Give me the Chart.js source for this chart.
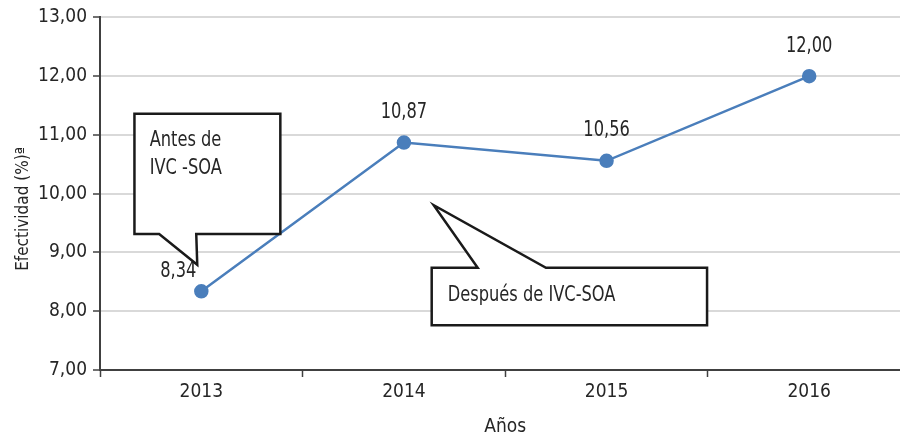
<!DOCTYPE html>
<html>
<head>
<meta charset="utf-8">
<script src="https://cdn.jsdelivr.net/npm/chart.js@4"></script>
<style>
  html, body { margin: 0; padding: 0; background: #fff; overflow: hidden; }
</style>
</head>
<body>
<canvas id="chart" width="919" height="440"></canvas>
<script>
// datos
const years = ['2013', '2014', '2015', '2016'];
const efectividad = [8.34, 10.87, 10.56, 12.00];
const yTicks = [7, 8, 9, 10, 11, 12, 13];

// pick a condensed font if one is installed
function hasFont(name) {
  const c = document.createElement('canvas').getContext('2d');
  const s = 'Después de IVC-SOA 2013 10,87';
  c.font = '20px monospace';
  const a = c.measureText(s).width;
  c.font = '20px "' + name + '", monospace';
  const b = c.measureText(s).width;
  c.font = '20px serif';
  const a2 = c.measureText(s).width;
  c.font = '20px "' + name + '", serif';
  const b2 = c.measureText(s).width;
  return a !== b && a2 !== b2 && b === b2;
}
const narrow = ['Liberation Sans Narrow', 'DejaVu Sans Condensed', 'Arial Narrow', 'Roboto Condensed']
  .find(hasFont);
const FONT = narrow ? '"' + narrow + '", sans-serif' : '"Liberation Sans", sans-serif';
const SZ = narrow ? 19 : 17;      // tick labels
const TSZ = 21;                   // custom text, squeezed horizontally
const SQX = narrow ? 0.86 : 0.82;

const BLUE = '#4a7ebb';
const TXT = '#262626';
const fmt = v => v.toFixed(2).replace('.', ',');

// callouts (x in category index units, y in axis units)
const callouts = [
  {
    box: [-0.33, 11.36, 0.39, 9.315],
    tail: [[-0.208, 9.315], [-0.02, 8.79], [-0.025, 9.315]],
    lines: ['Antes de', 'IVC -SOA'],
    text: [-0.255, 10.9]
  },
  {
    box: [1.137, 8.74, 2.496, 7.76],
    tail: [[1.364, 8.74], [1.147, 9.805], [1.701, 8.74]],
    lines: ['Después de IVC-SOA'],
    text: [1.216, 8.27]
  }
];

function squeezedText(ctx, str, x, y, align) {
  ctx.save();
  ctx.translate(x, y);
  ctx.scale(SQX, 1);
  ctx.textAlign = align;
  ctx.fillText(str, 0, 0);
  ctx.restore();
}

const labelPlugin = {
  id: 'valueLabels',
  afterDatasetsDraw(chart) {
    const ctx = chart.ctx;
    const meta = chart.getDatasetMeta(0);
    ctx.save();
    ctx.font = TSZ + 'px ' + FONT;
    ctx.fillStyle = TXT;
    ctx.textBaseline = 'middle';
    meta.data.forEach((pt, i) => {
      let dx = 0, dy = -30;
      if (i === 0) { dx = -23; dy = -20; }
      squeezedText(ctx, fmt(efectividad[i]), pt.x + dx, pt.y + dy, 'center');
    });
    ctx.restore();
  }
};

const calloutPlugin = {
  id: 'callouts',
  afterDraw(chart) {
    const ctx = chart.ctx;
    const xs = chart.scales.x, ys = chart.scales.y;
    const px = v => xs.getPixelForValue(v);
    const py = v => ys.getPixelForValue(v);
    ctx.save();
    callouts.forEach(c => {
      const [x1, y1, x2, y2] = c.box;
      const L = px(x1), T = py(y1), R = px(x2), B = py(y2);
      const t = c.tail.map(p => [px(p[0]), py(p[1])]);
      const tailOnBottom = Math.abs(t[0][1] - B) < 2;
      ctx.beginPath();
      ctx.moveTo(L, T);
      if (tailOnBottom) {
        ctx.lineTo(R, T);
        ctx.lineTo(R, B);
        ctx.lineTo(t[2][0], t[2][1]);
        ctx.lineTo(t[1][0], t[1][1]);
        ctx.lineTo(t[0][0], t[0][1]);
        ctx.lineTo(L, B);
      } else {
        ctx.lineTo(t[0][0], t[0][1]);
        ctx.lineTo(t[1][0], t[1][1]);
        ctx.lineTo(t[2][0], t[2][1]);
        ctx.lineTo(R, T);
        ctx.lineTo(R, B);
        ctx.lineTo(L, B);
      }
      ctx.closePath();
      ctx.fillStyle = '#fff';
      ctx.fill();
      ctx.lineWidth = 2.5;
      ctx.lineJoin = 'miter';
      ctx.strokeStyle = '#1a1a1a';
      ctx.stroke();

      ctx.font = TSZ + 'px ' + FONT;
      ctx.fillStyle = TXT;
      ctx.textBaseline = 'middle';
      const tx = px(c.text[0]);
      let ty = py(c.text[1]);
      c.lines.forEach(line => { squeezedText(ctx, line, tx, ty, 'left'); ty += 28; });
    });
    ctx.restore();
  }
};

new Chart(document.getElementById('chart'), {
  type: 'line',
  data: {
    labels: years,
    datasets: [{
      data: efectividad,
      borderColor: BLUE,
      backgroundColor: BLUE,
      borderWidth: 2.5,
      pointRadius: 6,
      pointHoverRadius: 6,
      pointBackgroundColor: BLUE,
      pointBorderColor: BLUE,
      tension: 0
    }]
  },
  options: {
    responsive: false,
    animation: false,
    layout: { padding: { top: 15, right: 0, left: 0, bottom: 0 } },
    plugins: { legend: { display: false }, tooltip: { enabled: false } },
    scales: {
      x: {
        offset: true,
        afterFit(scale) { scale.height = 70; },
        grid: {
          offset: true,
          drawOnChartArea: false,
          tickLength: 7,
          tickColor: '#404040',
          tickWidth: 1.5
        },
        border: { color: '#404040', width: 2 },
        ticks: { color: TXT, font: { family: FONT, size: SZ }, padding: 4 },
        title: {
          display: true,
          text: 'Años',
          color: TXT,
          font: { family: FONT, size: SZ },
          padding: { top: 4, bottom: 2 }
        }
      },
      y: {
        min: 7,
        max: 13,
        afterFit(scale) { scale.width = 100; },
        afterBuildTicks(scale) { scale.ticks = yTicks.map(v => ({ value: v })); },
        grid: {
          color: '#d9d9d9',
          lineWidth: 2,
          tickLength: 7,
          tickColor: '#404040',
          tickWidth: 1.5
        },
        border: { color: '#404040', width: 2 },
        ticks: {
          color: TXT,
          font: { family: FONT, size: SZ },
          padding: 6,
          callback: v => fmt(v)
        },
        title: {
          display: true,
          text: 'Efectividad (%)ª\u2002\u2002\u2002\u2002',
          color: TXT,
          font: { family: FONT, size: 17 },
          padding: { top: 13, bottom: 0 }
        }
      }
    }
  },
  plugins: [labelPlugin, calloutPlugin]
});
</script>
</body>
</html>
